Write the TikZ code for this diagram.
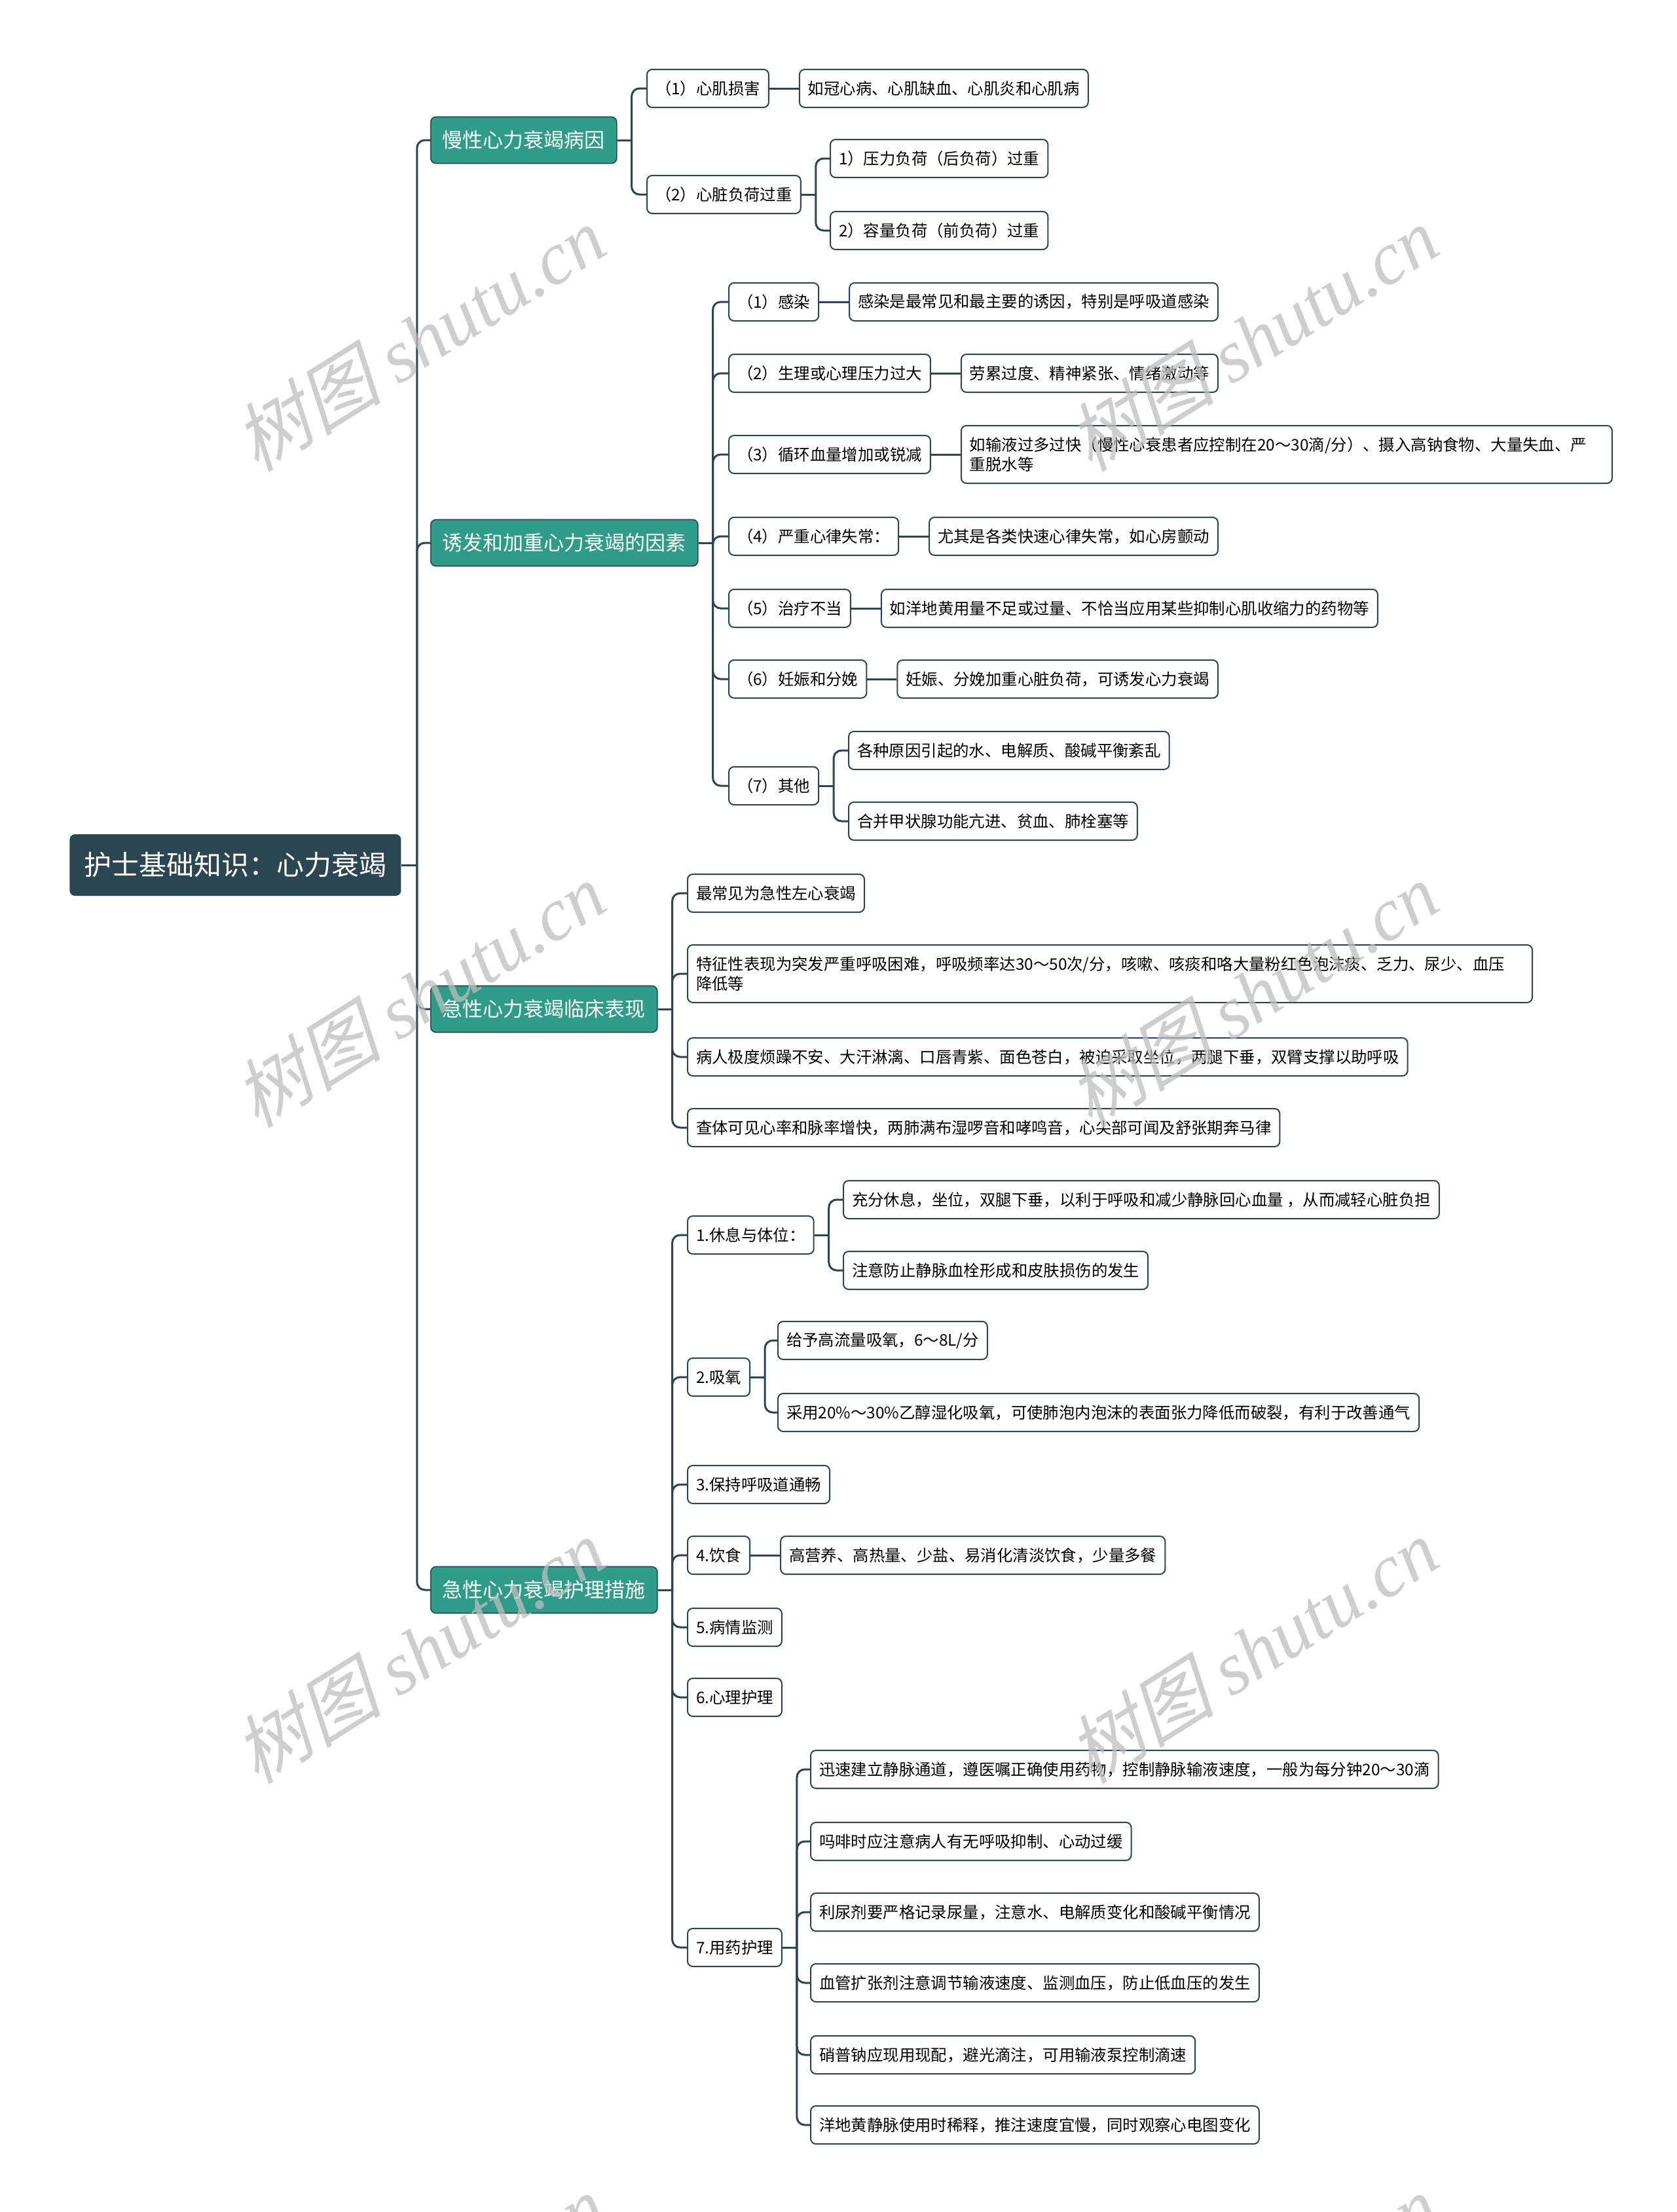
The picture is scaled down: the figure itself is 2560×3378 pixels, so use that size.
\documentclass[tikz,border=0pt]{standalone}
\usepackage{fontspec}
\setmainfont{Noto Sans CJK SC}
\newfontfamily\wmcjk{Noto Sans CJK SC}[FakeSlant=0.25]
\newfontfamily\wmlatin{Liberation Serif}
\usetikzlibrary{positioning}
\definecolor{HFDark}{HTML}{2A4653}
\definecolor{HFTeal}{HTML}{2E9C88}
\definecolor{HFMark}{HTML}{BEBEBE}
\tikzset{
  rootbox/.style={fill=HFDark,text=white,rounded corners=4pt,minimum height=47pt,inner xsep=11pt,font=\fontsize{21}{25}\selectfont,anchor=west},
  topicbox/.style={fill=HFTeal,draw=HFDark,line width=0.8pt,text=white,rounded corners=4pt,minimum height=35.5pt,inner xsep=9pt,font=\fontsize{15.5}{18}\selectfont,anchor=west},
  leafbox/.style={draw=HFDark,line width=1pt,fill=white,rounded corners=4pt,minimum height=29pt,inner xsep=6.5pt,inner ysep=7pt,font=\fontsize{12.2}{15}\selectfont,anchor=west,align=left},
  link/.style={draw=HFDark,line width=1.5pt},
  fork/.style={link,rounded corners=6pt},
  wmark/.style={text=HFMark,text opacity=0.75,rotate=32,font=\fontsize{57}{60}\selectfont}
}

\begin{document}
\begin{tikzpicture}[x=0.5pt,y=-0.5pt]
\useasboundingbox (0,0) rectangle (2560,3378);
\clip (0,0) rectangle (2560,3378);
\fill[white] (0,0) rectangle (2560,3378);

\node[rootbox] (root) at (106,1321) {护士基础知识：心力衰竭};
\node[topicbox] (ca) at (657,214) {慢性心力衰竭病因};
\node[topicbox] (cb) at (657,829) {诱发和加重心力衰竭的因素};
\node[topicbox] (cc) at (657,1541) {急性心力衰竭临床表现};
\node[topicbox] (cd) at (657,2428) {急性心力衰竭护理措施};

\node[leafbox] (a1) at (987,135) {（1）心肌损害};
\node[leafbox,right=22.5pt of a1] (a1x) {如冠心病、心肌缺血、心肌炎和心肌病};
\node[leafbox] (a2) at (987,297) {（2）心脏负荷过重};
\node[leafbox] (a21) at (1267,242) {1）压力负荷（后负荷）过重};
\node[leafbox] (a22) at (1267,352) {2）容量负荷（前负荷）过重};

\node[leafbox] (b1) at (1112,461) {（1）感染};
\node[leafbox,right=22.5pt of b1] (b1x) {感染是最常见和最主要的诱因，特别是呼吸道感染};
\node[leafbox] (b2) at (1112,570) {（2）生理或心理压力过大};
\node[leafbox,right=22.5pt of b2] (b2x) {劳累过度、精神紧张、情绪激动等};
\node[leafbox] (b3) at (1112,694) {（3）循环血量增加或锐减};
\node[leafbox,right=22.5pt of b3,text width=484pt,minimum height=44pt] (b3x) {如输液过多过快（慢性心衰患者应控制在20～30滴/分）、摄入高钠食物、大量失血、严\\重脱水等};
\node[leafbox] (b4) at (1112,819) {（4）严重心律失常：};
\node[leafbox,right=22.5pt of b4] (b4x) {尤其是各类快速心律失常，如心房颤动};
\node[leafbox] (b5) at (1112,929) {（5）治疗不当};
\node[leafbox,right=22.5pt of b5] (b5x) {如洋地黄用量不足或过量、不恰当应用某些抑制心肌收缩力的药物等};
\node[leafbox] (b6) at (1112,1037) {（6）妊娠和分娩};
\node[leafbox,right=22.5pt of b6] (b6x) {妊娠、分娩加重心脏负荷，可诱发心力衰竭};
\node[leafbox] (b7) at (1112,1200) {（7）其他};
\node[leafbox] (b71) at (1295,1146) {各种原因引起的水、电解质、酸碱平衡紊乱};
\node[leafbox] (b72) at (1295,1254) {合并甲状腺功能亢进、贫血、肺栓塞等};

\node[leafbox] (c1) at (1049,1364) {最常见为急性左心衰竭};
\node[leafbox,text width=632pt,minimum height=44pt] (c2) at (1049,1487) {特征性表现为突发严重呼吸困难，呼吸频率达30～50次/分，咳嗽、咳痰和咯大量粉红色泡沫痰、乏力、尿少、血压\\降低等};
\node[leafbox] (c3) at (1049,1614) {病人极度烦躁不安、大汗淋漓、口唇青紫、面色苍白，被迫采取坐位，两腿下垂，双臂支撑以助呼吸};
\node[leafbox] (c4) at (1049,1722) {查体可见心率和脉率增快，两肺满布湿啰音和哮鸣音，心尖部可闻及舒张期奔马律};

\node[leafbox] (d1) at (1049,1886) {1.休息与体位：};
\node[leafbox] (d11) at (1287,1832) {充分休息，坐位，双腿下垂，以利于呼吸和减少静脉回心血量 ，从而减轻心脏负担};
\node[leafbox] (d12) at (1287,1940) {注意防止静脉血栓形成和皮肤损伤的发生};
\node[leafbox] (d2) at (1049,2103) {2.吸氧};
\node[leafbox] (d21) at (1187,2047) {给予高流量吸氧，6～8L/分};
\node[leafbox] (d22) at (1187,2157) {采用20\%～30\%乙醇湿化吸氧，可使肺泡内泡沫的表面张力降低而破裂，有利于改善通气};
\node[leafbox] (d3) at (1049,2267) {3.保持呼吸道通畅};
\node[leafbox] (d4) at (1049,2375) {4.饮食};
\node[leafbox,right=22.5pt of d4] (d4x) {高营养、高热量、少盐、易消化清淡饮食，少量多餐};
\node[leafbox] (d5) at (1049,2485) {5.病情监测};
\node[leafbox] (d6) at (1049,2592) {6.心理护理};
\node[leafbox] (d7) at (1049,2974) {7.用药护理};
\node[leafbox] (d71) at (1237,2702) {迅速建立静脉通道，遵医嘱正确使用药物，控制静脉输液速度，一般为每分钟20～30滴};
\node[leafbox] (d72) at (1237,2812) {吗啡时应注意病人有无呼吸抑制、心动过缓};
\node[leafbox] (d73) at (1237,2920) {利尿剂要严格记录尿量，注意水、电解质变化和酸碱平衡情况};
\node[leafbox] (d74) at (1237,3028) {血管扩张剂注意调节输液速度、监测血压，防止低血压的发生};
\node[leafbox] (d75) at (1237,3138) {硝普钠应现用现配，避光滴注，可用输液泵控制滴速};
\node[leafbox] (d76) at (1237,3245) {洋地黄静脉使用时稀释，推注速度宜慢，同时观察心电图变化};

\draw[link] (root.east) -- ++(24,0) coordinate (rk);
\draw[fork] (rk) |- (ca.west);
\draw[fork] (rk) |- (cb.west);
\draw[fork] (rk) |- (cc.west);
\draw[fork] (rk) |- (cd.west);

\draw[link] (ca.east) -- ++(22,0) coordinate (cak);
\draw[fork] (cak) |- (a1.west);
\draw[fork] (cak) |- (a2.west);
\draw[link] (a1.east) -- (a1x.west);
\draw[link] (a2.east) -- ++(22,0) coordinate (a2k);
\draw[fork] (a2k) |- (a21.west);
\draw[fork] (a2k) |- (a22.west);

\draw[link] (cb.east) -- ++(22,0) coordinate (cbk);
\draw[fork] (cbk) |- (b1.west);
\draw[fork] (cbk) |- (b2.west);
\draw[fork] (cbk) |- (b3.west);
\draw[fork] (cbk) |- (b4.west);
\draw[fork] (cbk) |- (b5.west);
\draw[fork] (cbk) |- (b6.west);
\draw[fork] (cbk) |- (b7.west);
\draw[link] (b1.east) -- (b1x.west);
\draw[link] (b2.east) -- (b2x.west);
\draw[link] (b3.east) -- (b3x.west);
\draw[link] (b4.east) -- (b4x.west);
\draw[link] (b5.east) -- (b5x.west);
\draw[link] (b6.east) -- (b6x.west);
\draw[link] (b7.east) -- ++(22,0) coordinate (b7k);
\draw[fork] (b7k) |- (b71.west);
\draw[fork] (b7k) |- (b72.west);

\draw[link] (cc.east) -- ++(22,0) coordinate (cck);
\draw[fork] (cck) |- (c1.west);
\draw[fork] (cck) |- (c2.west);
\draw[fork] (cck) |- (c3.west);
\draw[fork] (cck) |- (c4.west);

\draw[link] (cd.east) -- ++(22,0) coordinate (cdk);
\draw[fork] (cdk) |- (d1.west);
\draw[fork] (cdk) |- (d2.west);
\draw[fork] (cdk) |- (d3.west);
\draw[fork] (cdk) |- (d4.west);
\draw[fork] (cdk) |- (d5.west);
\draw[fork] (cdk) |- (d6.west);
\draw[fork] (cdk) |- (d7.west);
\draw[link] (d1.east) -- ++(22,0) coordinate (d1k);
\draw[fork] (d1k) |- (d11.west);
\draw[fork] (d1k) |- (d12.west);
\draw[link] (d2.east) -- ++(22,0) coordinate (d2k);
\draw[fork] (d2k) |- (d21.west);
\draw[fork] (d2k) |- (d22.west);
\draw[link] (d4.east) -- (d4x.west);
\draw[link] (d7.east) -- ++(22,0) coordinate (d7k);
\draw[fork] (d7k) |- (d71.west);
\draw[fork] (d7k) |- (d72.west);
\draw[fork] (d7k) |- (d73.west);
\draw[fork] (d7k) |- (d74.west);
\draw[fork] (d7k) |- (d75.west);
\draw[fork] (d7k) |- (d76.west);

\node[wmark] (wm1) at (640,517) {{\wmcjk 树图} {\wmlatin\itshape shutu.cn}};
\node[wmark] (wm2) at (1912,517) {{\wmcjk 树图} {\wmlatin\itshape shutu.cn}};
\node[wmark] (wm3) at (640,1519) {{\wmcjk 树图} {\wmlatin\itshape shutu.cn}};
\node[wmark] (wm4) at (1912,1519) {{\wmcjk 树图} {\wmlatin\itshape shutu.cn}};
\node[wmark] (wm5) at (640,2521) {{\wmcjk 树图} {\wmlatin\itshape shutu.cn}};
\node[wmark] (wm6) at (1912,2521) {{\wmcjk 树图} {\wmlatin\itshape shutu.cn}};
\node[wmark] (wm7) at (640,3523) {{\wmcjk 树图} {\wmlatin\itshape shutu.cn}};
\node[wmark] (wm8) at (1912,3523) {{\wmcjk 树图} {\wmlatin\itshape shutu.cn}};
\end{tikzpicture}
\end{document}
